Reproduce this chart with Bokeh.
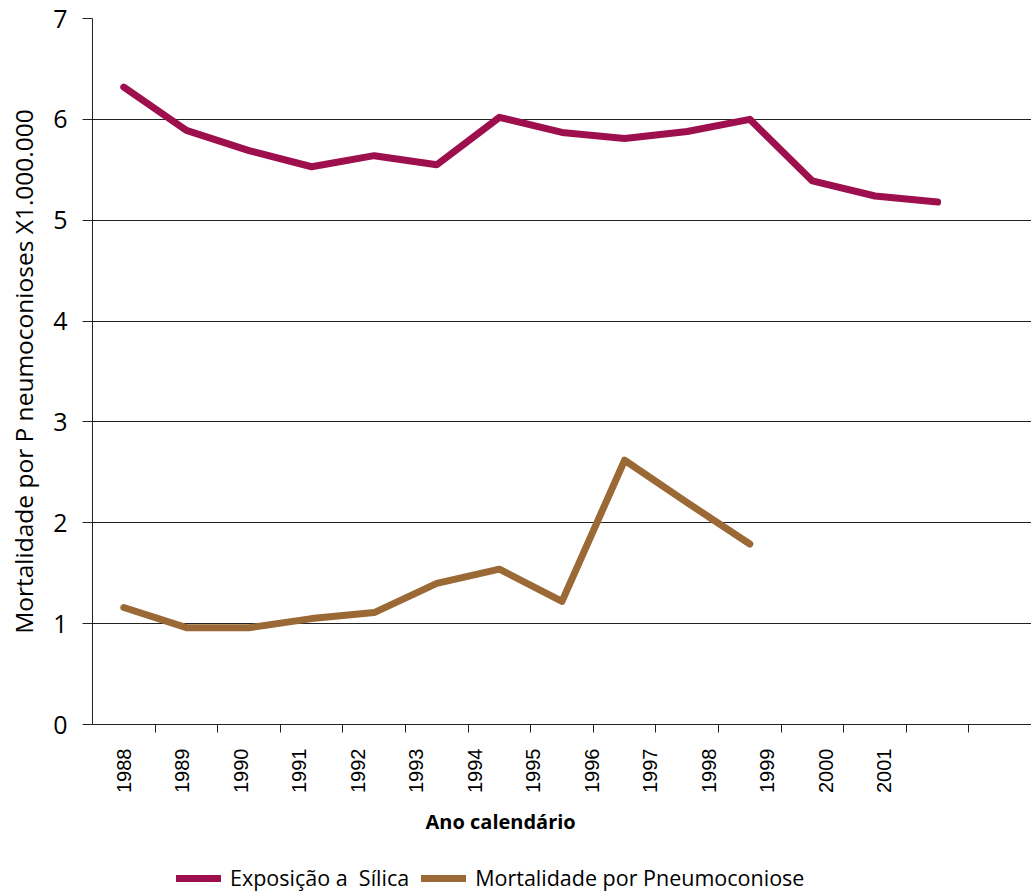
import math
from bokeh.plotting import figure
from bokeh.layouts import column
from bokeh.models import (ColumnDataSource, FixedTicker, Legend, LegendItem,
                          Range1d, Title)
from bokeh.embed import file_html
from bokeh.resources import INLINE

# ---- data ----
years = ["1988", "1989", "1990", "1991", "1992", "1993", "1994", "1995",
         "1996", "1997", "1998", "1999", "2000", "2001"]
exposicao = [6.32, 5.89, 5.69, 5.53, 5.64, 5.55, 6.02, 5.87, 5.81, 5.88,
             6.00, 5.39, 5.24, 5.18]
mortalidade = [1.16, 0.96, 0.96, 1.05, 1.11, 1.40, 1.54, 1.22, 2.62, 2.20,
               1.79]
y_ticks = [0, 1, 2, 3, 4, 5, 6, 7]
series_names = ["Exposição a  Sílica", "Mortalidade por Pneumoconiose"]

MAGENTA = "#9e0f4e"
BROWN = "#9b6935"

x_exp = [i + 0.5 for i in range(len(exposicao))]
x_mor = [i + 0.5 for i in range(len(mortalidade))]

p = figure(width=1031, height=850, output_backend="svg", toolbar_location=None,
           x_range=Range1d(0, 15), y_range=Range1d(0, 7),
           min_border_left=92, min_border_right=0, min_border_top=18,
           min_border_bottom=126)
p.outline_line_color = None
p.background_fill_color = "white"

src_e = ColumnDataSource(dict(x=x_exp, y=exposicao))
src_m = ColumnDataSource(dict(x=x_mor, y=mortalidade))
line_kw = dict(line_width=7, line_cap="round", line_join="round")
p.line("x", "y", source=src_e, line_color=MAGENTA, **line_kw)
p.line("x", "y", source=src_m, line_color=BROWN, **line_kw)

# ---- y axis ----
yax = p.yaxis[0]
yax.ticker = FixedTicker(ticks=y_ticks)
yax.axis_line_color = "#222222"
yax.major_tick_out = 10
yax.major_tick_in = 0
yax.minor_tick_line_color = None
yax.major_tick_line_color = "#222222"
yax.major_label_text_font = "Open Sans"
yax.major_label_text_font_size = "25px"
yax.major_label_text_color = "black"
yax.major_label_standoff = 15
yax.axis_label = "Mortalidade por P neumoconioses X1.000.000"
yax.axis_label_text_font = "Open Sans"
yax.axis_label_text_font_size = "24.5px"
yax.axis_label_text_font_style = "normal"
yax.axis_label_text_color = "black"
yax.axis_label_standoff = 10

p.ygrid.ticker = FixedTicker(ticks=y_ticks)
p.ygrid.grid_line_color = "#222222"
p.ygrid.grid_line_width = 1
p.xgrid.grid_line_color = None

# ---- x axis ----
label_step = 0.9345
label_pos = [round(0.5 + i * label_step, 4) for i in range(len(years))]
boundaries = list(range(1, len(years) + 1))
xax = p.xaxis[0]
xax.ticker = FixedTicker(ticks=label_pos, minor_ticks=boundaries)
xax.major_label_overrides = {pos: yr for pos, yr in zip(label_pos, years)}
xax.major_tick_line_color = None
xax.major_tick_out = 0
xax.major_tick_in = 0
xax.minor_tick_out = 8
xax.minor_tick_in = 0
xax.minor_tick_line_color = "#222222"
xax.axis_line_color = "#222222"
xax.major_label_orientation = math.pi / 2
xax.major_label_text_font = "Liberation Sans"
xax.major_label_text_font_size = "20px"
xax.major_label_text_color = "black"
xax.major_label_standoff = 16

xt = Title(text="Ano calendário", align="left", offset=333,
           text_font="Open Sans", text_font_size="20px",
           text_font_style="bold", text_color="black", standoff=20)
p.add_layout(xt, "below")

# ---- legend (in its own strip below the chart) ----
lg = figure(width=1031, height=43, output_backend="svg", toolbar_location=None,
            x_range=Range1d(-100, -99), y_range=Range1d(-100, -99),
            x_axis_location=None, y_axis_location=None,
            min_border_left=0, min_border_right=0, min_border_top=0,
            min_border_bottom=0)
lg.outline_line_color = None
lg.grid.visible = False
lr1 = lg.line("x", "y", source=src_e, line_color=MAGENTA, **line_kw)
lr2 = lg.line("x", "y", source=src_m, line_color=BROWN, **line_kw)
legend = Legend(items=[LegendItem(label=series_names[0], renderers=[lr1]),
                       LegendItem(label=series_names[1], renderers=[lr2])],
                orientation="horizontal", location=(84, 1),
                label_text_font="Open Sans", label_text_font_size="21.5px",
                label_text_color="black", glyph_width=45, glyph_height=20,
                label_standoff=9, spacing=12, padding=0, margin=0,
                border_line_color=None, background_fill_alpha=0)
lg.add_layout(legend, "center")

page = column(p, lg, spacing=0)
open("out.html", "w").write(file_html(page, INLINE))
